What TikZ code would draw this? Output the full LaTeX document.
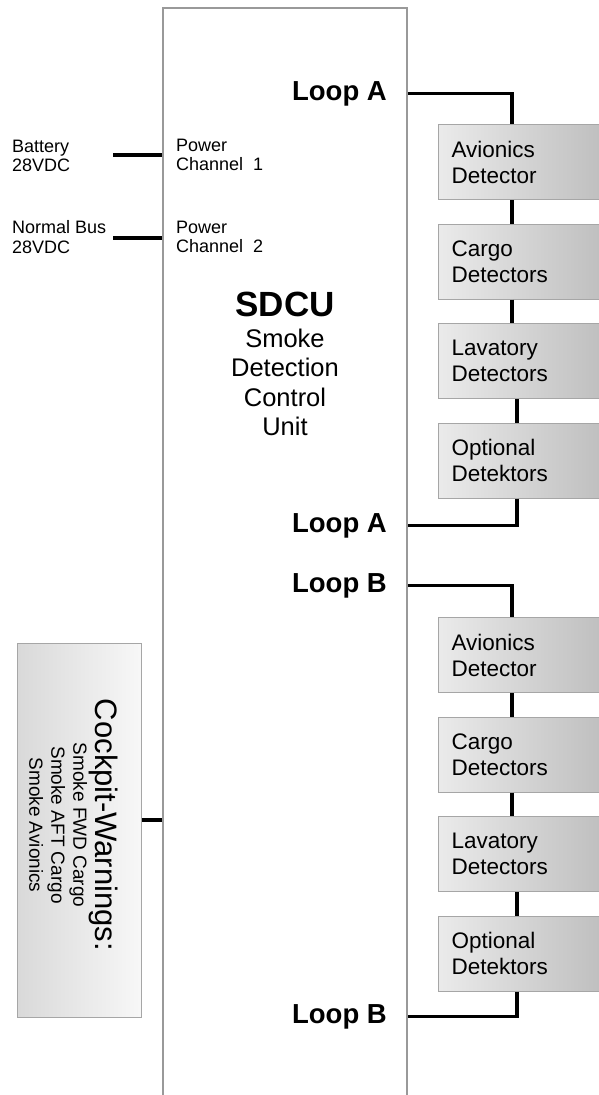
\documentclass[tikz,border=0pt]{standalone}
\usepackage{fontspec}
\setmainfont{Liberation Sans}
\usetikzlibrary{positioning}

\begin{document}
\begin{tikzpicture}[x=1pt, y=-1pt,
  wire/.style={line width=3.5pt},
  detbox/.style={draw=black!35, line width=1pt, left color=black!8, right color=black!26,
    minimum height=75pt, text width=146pt, inner xsep=13pt, inner ysep=0pt, align=left,
    font=\fontsize{22.5}{26}\selectfont},
  looplbl/.style={anchor=base east, inner sep=0pt, font=\fontsize{27.5}{28}\selectfont\bfseries},
  smalltxt/.style={anchor=west, inner sep=0pt, align=left, font=\fontsize{18}{19.5}\selectfont}]

\path[use as bounding box, fill=white] (0,0) rectangle (599,1095);

\node at (285,559) (sdcu) [draw=black!40, line width=1.5pt, minimum width=244pt, minimum height=1102pt] {};

\node at (285,292) (title) [anchor=north, inner sep=0pt, align=center, font=\fontsize{25.5}{29.5}\selectfont]
{{\fontsize{35}{35}\selectfont\bfseries SDCU}\\[1pt]Smoke\\Detection\\Control\\Unit};

\node at (12,156) (bat) [smalltxt] {Battery\\28VDC};
\node at (12,237) (nbus) [smalltxt] {Normal Bus\\28VDC};
\node at (176,155) (pwr1) [smalltxt] {Power\\Channel\ \ 1};
\node at (176,237) (pwr2) [smalltxt] {Power\\Channel\ \ 2};

\coordinate (batEnd) at (113,155);
\coordinate (nbusEnd) at (113,238);
\draw[wire] (batEnd) -- (batEnd -| sdcu.west);
\draw[wire] (nbusEnd) -- (nbusEnd -| sdcu.west);

\node at (387,100) (loopA1) [looplbl] {Loop A};
\node at (387,532) (loopA2) [looplbl] {Loop A};
\node at (387,592) (loopB1) [looplbl] {Loop B};
\node at (387,1023) (loopB2) [looplbl] {Loop B};

\node at (438,124) (avA) [detbox, anchor=north west] {Avionics\\Detector};
\node (cgA) [detbox, below=23.5pt of avA] {Cargo\\Detectors};
\node (lvA) [detbox, below=23.5pt of cgA] {Lavatory\\Detectors};
\node (opA) [detbox, below=23.5pt of lvA] {Optional\\Detektors};

\node at (438,617) (avB) [detbox, anchor=north west] {Avionics\\Detector};
\node (cgB) [detbox, below=23.5pt of avB] {Cargo\\Detectors};
\node (lvB) [detbox, below=23.5pt of cgB] {Lavatory\\Detectors};
\node (opB) [detbox, below=23.5pt of lvB] {Optional\\Detektors};

\coordinate (colA) at (512,0);
\coordinate (colB) at (517,0);

\draw[wire] (loopA1.east -| sdcu.east) -| (colA |- avA.north);
\draw[wire] (avA.south -| colA) -- (cgA.north -| colA);
\draw[wire] (cgA.south -| colA) -- (lvA.north -| colA);
\draw[wire] (lvA.south -| colB) -- (opA.north -| colB);
\draw[wire] (opA.south -| colB) |- (loopA2.east -| sdcu.east);

\draw[wire] (loopB1.east -| sdcu.east) -| (colA |- avB.north);
\draw[wire] (avB.south -| colA) -- (cgB.north -| colA);
\draw[wire] (cgB.south -| colA) -- (lvB.north -| colA);
\draw[wire] (lvB.south -| colB) -- (opB.north -| colB);
\draw[wire] (opB.south -| colB) |- (loopB2.east -| sdcu.east);

\node at (79,830) (cockpit) [draw=black!35, line width=1pt, left color=black!15, right color=black!3,
  minimum width=124pt, minimum height=374pt] {};
\node at (118,825) (cockpitTxt) [rotate=-90, anchor=north, inner sep=0pt, align=center,
  font=\fontsize{19}{22}\selectfont]
{{\fontsize{31}{31}\selectfont Cockpit-Warnings:}\\Smoke FWD Cargo\\Smoke AFT Cargo\\Smoke Avionics};

\draw[wire] ([yshift=10pt]cockpit.east) -- ([yshift=10pt]cockpit.east -| sdcu.west);
\end{tikzpicture}
\end{document}
